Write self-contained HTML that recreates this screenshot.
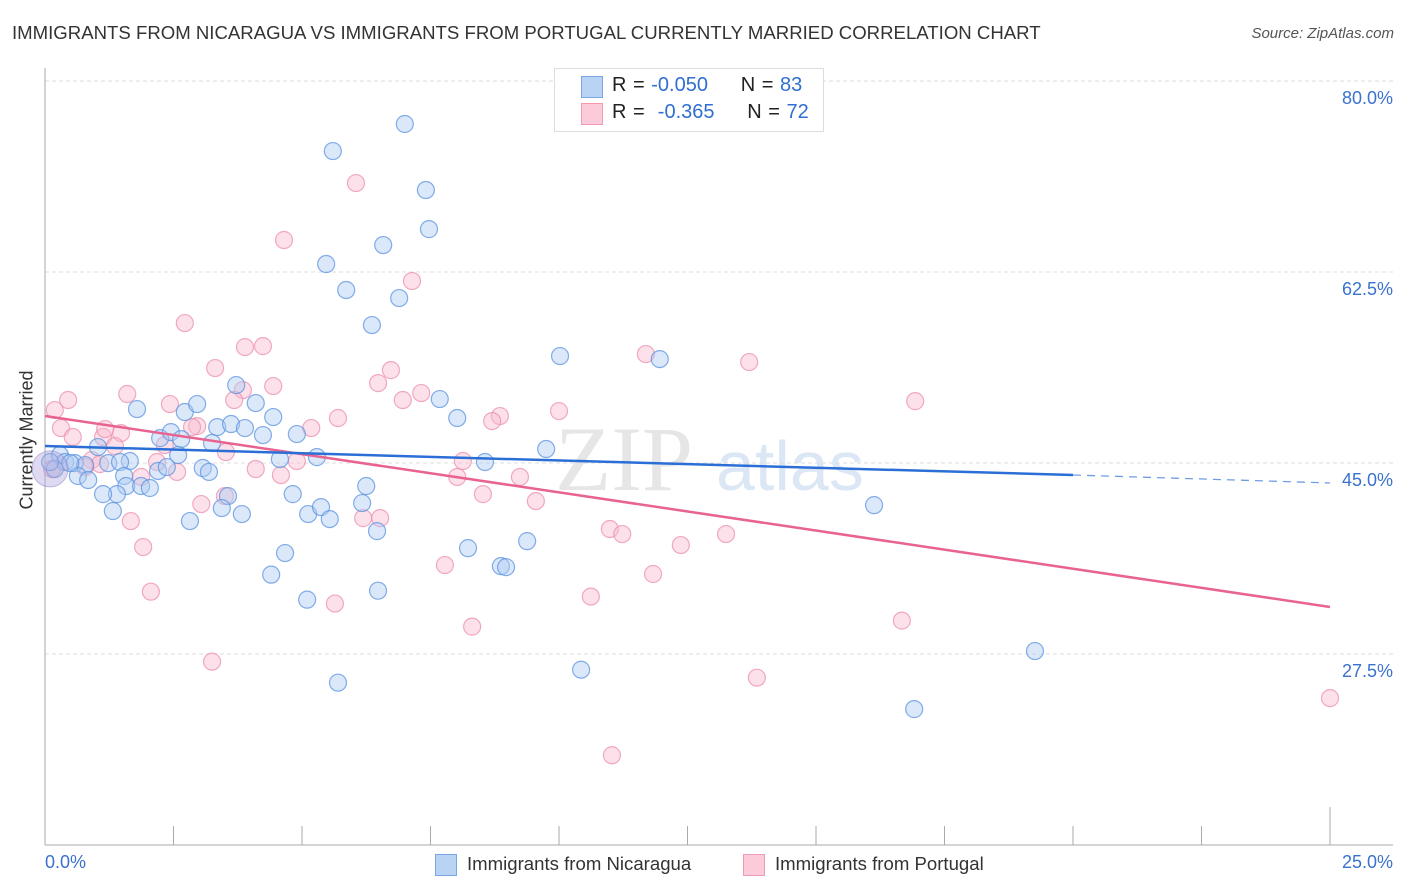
<!DOCTYPE html>
<html><head><meta charset="utf-8"><style>
body{margin:0;background:#fff;font-family:"Liberation Sans",sans-serif;}
#wrap{position:relative;width:1406px;height:892px;overflow:hidden;}
.t{position:absolute;white-space:nowrap;}
</style></head><body>
<div id="wrap">
<div class="t" style="left:12px;top:22px;font-size:18.6px;color:#333;">IMMIGRANTS FROM NICARAGUA VS IMMIGRANTS FROM PORTUGAL CURRENTLY MARRIED CORRELATION CHART</div>
<div class="t" style="right:12px;top:25px;font-size:15px;color:#555;font-style:italic;">Source: ZipAtlas.com</div>
<div class="t" style="left:-28px;top:444px;font-size:18px;color:#333;transform:rotate(-90deg);transform-origin:center;width:110px;text-align:center;">Currently Married</div>
<svg id="svg" width="1406" height="892" style="position:absolute;left:0;top:0"></svg>
<div class="t" style="left:554px;top:68px;width:268px;height:62px;border:1px solid #ddd;background:#fff;"></div>
<div class="t" style="left:581px;top:76px;width:20px;height:20px;background:#b9d3f5;border:1px solid #7aa6e6;"></div>
<div class="t" style="left:581px;top:103px;width:20px;height:20px;background:#fbcbd9;border:1px solid #f09ab4;"></div>
<div class="t" style="left:612px;top:74px;font-size:20px;color:#222;word-spacing:1px;">R = <span style="color:#2f6fd0">-0.050</span>&nbsp;&nbsp;&nbsp;&nbsp; N = <span style="color:#2f6fd0">83</span></div>
<div class="t" style="left:612px;top:101px;font-size:20px;color:#222;word-spacing:1px;">R = &nbsp;<span style="color:#2f6fd0">-0.365</span>&nbsp;&nbsp;&nbsp;&nbsp; N = <span style="color:#2f6fd0">72</span></div>
<div class="t" style="left:45px;top:852px;font-size:18px;color:#3a72cf;">0.0%</div>
<div class="t" style="right:13px;top:852px;font-size:18px;color:#3a72cf;">25.0%</div>
<div class="t" style="left:435px;top:854px;width:20px;height:20px;background:#b9d3f5;border:1px solid #7aa6e6;"></div>
<div class="t" style="left:467px;top:853px;font-size:18.6px;color:#333;">Immigrants from Nicaragua</div>
<div class="t" style="left:743px;top:854px;width:20px;height:20px;background:#fbcbd9;border:1px solid #f09ab4;"></div>
<div class="t" style="left:775px;top:853px;font-size:18.6px;color:#333;">Immigrants from Portugal</div>
</div>
<script>
const yTicks=[80,62.5,45,27.5];
const yTickLabels=["80.0%","62.5%","45.0%","27.5%"];
const blueX=[7.00,5.60,7.41,7.47,6.58,5.47,5.86,6.89,6.36,10.02,11.96,3.72,1.79,2.72,2.96,4.10,4.44,7.68,8.02,3.35,3.62,3.89,4.24,4.90,2.24,2.45,2.65,3.25,2.59,5.29,8.56,9.75,1.65,1.03,0.29,0.39,0.58,0.78,1.23,1.46,0.19,0.64,0.84,1.54,1.58,1.87,2.04,2.20,2.37,3.07,3.19,4.57,3.56,3.44,3.83,1.40,1.13,1.32,2.82,4.82,5.12,5.37,5.54,6.17,6.25,6.46,8.23,9.38,8.87,8.97,4.67,4.40,5.10,6.48,10.43,5.70,16.13,19.26,16.91,0.10,0.49];
const blueY=[76.06,73.58,70.01,66.43,64.97,63.23,60.85,60.11,57.64,54.80,54.52,52.14,49.94,49.67,50.40,50.49,49.21,50.86,49.12,48.29,48.57,48.20,47.56,47.65,47.28,47.83,47.19,46.83,45.73,45.54,45.09,46.28,45.18,46.46,45.73,45.09,44.99,44.81,44.99,45.09,44.45,43.81,43.44,43.81,42.89,42.89,42.71,44.27,44.63,44.54,44.18,45.36,41.97,40.87,40.32,42.15,42.15,40.60,39.68,42.15,40.32,40.96,39.86,41.33,42.89,38.76,37.20,37.84,35.55,35.46,36.75,34.77,32.48,33.30,26.06,24.87,41.14,27.77,22.45,45.09,44.99];
const pinkX=[6.05,4.65,7.14,2.72,11.69,13.70,3.89,4.24,3.31,6.73,6.48,3.85,4.44,7.32,6.96,1.60,0.45,0.19,2.43,3.68,16.93,10.00,8.85,8.70,5.70,5.18,0.31,0.54,1.13,1.17,1.48,1.36,2.96,2.86,3.52,2.33,2.57,0.91,1.07,4.90,4.10,4.59,8.13,8.02,9.24,8.52,9.55,1.87,2.18,0.78,3.04,3.50,1.67,6.19,6.52,10.99,11.23,13.25,12.37,1.91,7.78,11.83,2.06,5.64,10.62,8.31,16.67,3.25,13.85,11.03,25.00,0.14];
const pinkY=[70.65,65.43,61.67,57.82,54.98,54.25,55.62,55.71,53.70,53.51,52.32,51.68,52.05,51.41,50.77,51.32,50.77,49.85,50.40,50.77,50.67,49.76,49.30,48.84,49.12,48.20,48.20,47.38,47.38,48.11,47.74,46.55,48.38,48.29,46.00,46.64,44.18,45.27,44.90,45.18,44.45,43.90,45.18,43.72,43.72,42.15,41.51,43.72,45.09,44.63,41.24,41.97,39.68,39.95,39.95,38.95,38.49,38.49,37.48,37.30,35.65,34.83,33.21,32.12,32.76,30.01,30.56,26.80,25.33,18.22,23.46,44.45];
const blueTrend=[[0,46.56],[20,43.90]];
const blueTrendExt=[[20,43.90],[25,43.17]];
const pinkTrend=[[0,49.31],[25,31.81]];
const X0=45,X1=1330,Y80=81,PX=191/17.5;
const xs=v=>X0+(v/25)*(X1-X0);
const ys=v=>Y80+(80-v)*PX;
const svg=document.getElementById('svg');
const NS='http://www.w3.org/2000/svg';
function mk(tag,attrs){const e=document.createElementNS(NS,tag);for(const k in attrs)e.setAttribute(k,attrs[k]);svg.appendChild(e);return e;}
let wm=mk('text',{x:555,y:490,'font-size':92,'font-family':'Liberation Serif, serif',fill:'#e6e6e6'});wm.textContent='ZIP';


let wm2=mk('text',{x:716,y:490,'font-size':70,'font-family':'Liberation Sans, sans-serif',fill:'#dce7f5'});wm2.textContent='atlas';


yTicks.forEach((v,i)=>{
 const g=mk('line',{x1:45,x2:1393,y1:ys(v),y2:ys(v),stroke:'#ddd','stroke-dasharray':'4,3'});
 
 
 const t=mk('text',{x:1393,y:ys(v)+23,'text-anchor':'end','font-size':18,fill:'#3a72cf','font-family':'Liberation Sans, sans-serif'});
 t.textContent=yTickLabels[i];
 
 
});
let ax=mk('line',{x1:45,x2:45,y1:68,y2:845,stroke:'#aaa'});


let bx=mk('line',{x1:45,x2:1393,y1:845,y2:845,stroke:'#aaa'});


for(let i=1;i<=10;i++){
 const x=xs(i*2.5);
 const tk=mk('line',{x1:x,x2:x,y1:i==10?807:826,y2:845,stroke:'#aaa'});
 
 
}
function dots(X,Y,fill,stroke,name){
 X.forEach((x,i)=>{
  const c=mk('circle',{cx:xs(x),cy:ys(Y[i]),r:8.5,fill:fill,'fill-opacity':0.45,stroke:stroke,'stroke-opacity':0.75,'stroke-width':1.2});
  
  
 });
}
dots(pinkX,pinkY,'#f9bcd0','#ec8fae','portugal-point');
dots(blueX,blueY,'#b0cdf2','#5b93e0','nicaragua-point');
let big=mk('circle',{cx:50,cy:ys(44.46),r:18,fill:'#a9a3dc','fill-opacity':0.4,stroke:'#8a7fc8','stroke-opacity':0.5});


function line(p,stroke,w,dash,name){
 const l=mk('line',{x1:xs(p[0][0]),y1:ys(p[0][1]),x2:xs(p[1][0]),y2:ys(p[1][1]),stroke:stroke,'stroke-width':w});
 if(dash)l.setAttribute('stroke-dasharray',dash);
 
 
}
line(pinkTrend,'#e8638f',2.5,null,'portugal-trend-line');
line(blueTrend,'#2b6fd6',2.5,null,'nicaragua-trend-line');
line(blueTrendExt,'#6f9fe0',1.3,'8,6','nicaragua-trend-extension');
</script>
</body></html>
